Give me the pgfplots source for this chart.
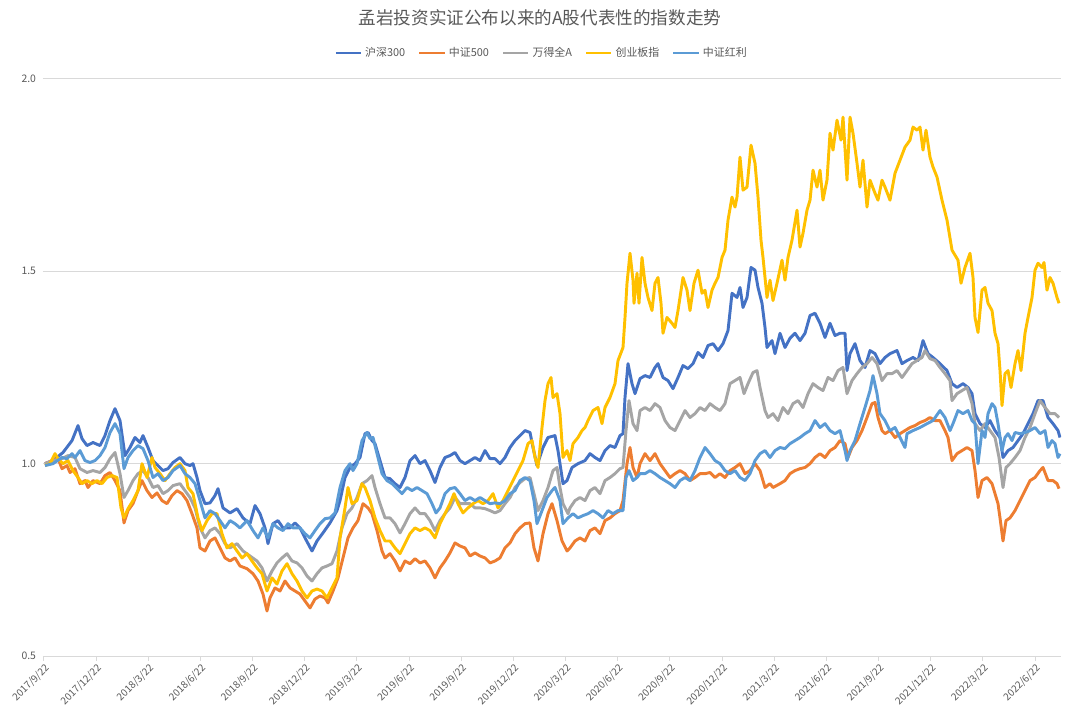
\documentclass[border=0pt]{standalone}
\usepackage{fontspec}
\setmainfont{Noto Sans CJK SC}
\usepackage{pgfplots}
\pgfplotsset{compat=1.18}
\definecolor{cHS}{HTML}{4472C4}
\definecolor{cZZ}{HTML}{ED7D31}
\definecolor{cWD}{HTML}{A5A5A5}
\definecolor{cCY}{HTML}{FFC000}
\definecolor{cHL}{HTML}{5B9BD5}
\definecolor{tgray}{HTML}{595959}
\definecolor{ggray}{HTML}{D9D9D9}
\begin{document}
\begin{tikzpicture}
\useasboundingbox (-32.25pt,-42.75pt) rectangle (777.75pt,492pt);
\begin{axis}[
  at={(0pt,0pt)}, anchor=south west,
  scale only axis, width=763.5pt, height=432.75pt,
  xmin=43, xmax=1061, ymin=0.5, ymax=2.0,
  axis x line=bottom, axis y line=left, axis line style={-},
  x axis line style={draw=ggray, line width=0.75pt},
  y axis line style={draw=none},
  xtick={44,96.16,148.32,200.48,252.64,304.8,356.96,409.12,461.28,513.44,565.6,617.76,669.92,722.08,774.24,826.4,878.56,930.72,982.88,1035.04},
  xticklabels={2017/9/22,2017/12/22,2018/3/22,2018/6/22,2018/9/22,2018/12/22,2019/3/22,2019/6/22,2019/9/22,2019/12/22,2020/3/22,2020/6/22,2020/9/22,2020/12/22,2021/3/22,2021/6/22,2021/9/22,2021/12/22,2022/3/22,2022/6/22},
  xtick align=outside, major tick length=3.5pt,
  xtick style={draw=ggray, line width=0.75pt},
  ytick={0.5,1.0,1.5,2.0}, yticklabels={0.5,1.0,1.5,2.0},
  ytick style={draw=none},
  x tick label style={rotate=45, anchor=north east, font=\fontsize{7.5}{9}\selectfont, text=tgray, inner sep=1pt},
  y tick label style={font=\fontsize{7.8}{9}\selectfont, text=tgray},
  ymajorgrids, grid style={draw=ggray, line width=0.75pt},
  every axis plot/.append style={line width=2.2pt, line join=round, mark=none},
  legend columns=5,
  legend style={at={(0.490,1)}, anchor=center, yshift=19.5pt, draw=none, fill=none,
    font=\fontsize{8.2}{10}\selectfont, text=tgray,
    /tikz/every even column/.append style={column sep=7.5pt}},
  legend image code/.code={\draw[#1] (0pt,0pt) -- (19pt,0pt);},
]
\addplot[cHS] coordinates {(45,1.000)(53,1.008)(63,1.029)(72,1.060)(78,1.099)(82,1.065)(87,1.047)(93,1.055)(100,1.047)(105,1.073)(110,1.112)(115,1.143)(120,1.112)(125,1.021)(130,1.042)(135,1.068)(140,1.055)(143,1.073)(148,1.042)(153,1.008)(158,0.995)(163,0.982)(168,0.987)(173,1.003)(180,1.016)(185,1.000)(190,0.995)(193,1.000)(197,0.964)(200,0.930)(205,0.896)(210,0.898)(215,0.917)(218,0.935)(223,0.885)(230,0.872)(237,0.883)(243,0.859)(250,0.844)(255,0.891)(260,0.870)(265,0.833)(268,0.792)(273,0.844)(278,0.852)(283,0.833)(290,0.833)(295,0.846)(300,0.833)(305,0.807)(312,0.773)(317,0.799)(323,0.820)(330,0.846)(337,0.878)(340,0.904)(345,0.964)(350,0.990)(355,1.000)(360,1.016)(365,1.078)(368,1.081)(372,1.060)(375,1.052)(380,1.008)(385,0.964)(390,0.961)(395,0.948)(400,0.938)(405,0.964)(410,1.008)(415,1.021)(420,1.000)(425,1.008)(430,0.982)(435,0.951)(440,0.990)(445,1.016)(450,1.021)(455,1.029)(460,1.008)(465,1.000)(470,1.008)(475,1.016)(480,1.008)(485,1.034)(490,1.013)(495,1.013)(500,1.000)(505,1.016)(510,1.042)(515,1.060)(520,1.073)(525,1.086)(530,1.081)(533,1.042)(537,0.995)(543,1.042)(548,1.068)(555,1.073)(558,1.034)(563,0.948)(567,0.956)(572,0.990)(578,1.000)(585,1.008)(590,1.026)(595,1.016)(600,1.008)(605,1.034)(610,1.047)(615,1.042)(620,1.073)(623,1.078)(625,1.172)(628,1.260)(632,1.208)(635,1.182)(640,1.221)(645,1.229)(650,1.224)(655,1.250)(658,1.260)(663,1.224)(668,1.216)(673,1.195)(678,1.224)(683,1.255)(688,1.247)(693,1.260)(698,1.289)(703,1.276)(708,1.307)(713,1.312)(718,1.294)(723,1.312)(728,1.346)(732,1.443)(737,1.432)(740,1.458)(743,1.406)(747,1.432)(751,1.510)(755,1.503)(758,1.458)(762,1.417)(765,1.354)(767,1.302)(772,1.320)(775,1.286)(780,1.339)(785,1.302)(790,1.326)(795,1.339)(800,1.320)(805,1.339)(810,1.385)(815,1.391)(820,1.365)(825,1.328)(830,1.365)(835,1.333)(840,1.339)(845,1.339)(847,1.242)(850,1.286)(855,1.312)(860,1.268)(865,1.250)(870,1.294)(875,1.286)(880,1.260)(885,1.276)(890,1.286)(897,1.294)(902,1.260)(907,1.268)(913,1.276)(918,1.268)(923,1.320)(928,1.286)(933,1.276)(940,1.260)(947,1.242)(952,1.208)(957,1.198)(963,1.208)(968,1.198)(972,1.182)(975,1.130)(980,1.104)(985,1.094)(990,1.112)(995,1.086)(1000,1.068)(1003,1.016)(1008,1.034)(1013,1.042)(1018,1.060)(1023,1.078)(1028,1.104)(1033,1.130)(1038,1.164)(1043,1.164)(1048,1.120)(1053,1.104)(1058,1.086)(1060,1.068)};
\addlegendentry{沪深300}
\addplot[cZZ] coordinates {(45,1.000)(52,1.008)(58,1.013)(62,0.987)(67,0.995)(70,0.977)(75,0.987)(80,0.948)(85,0.956)(88,0.938)(93,0.956)(100,0.948)(105,0.969)(110,0.977)(115,0.956)(120,0.930)(124,0.846)(128,0.878)(133,0.896)(138,0.930)(142,0.956)(147,0.930)(152,0.912)(157,0.924)(162,0.904)(167,0.896)(172,0.917)(177,0.930)(182,0.922)(187,0.904)(192,0.870)(197,0.833)(200,0.781)(205,0.773)(210,0.799)(215,0.807)(220,0.781)(225,0.755)(230,0.747)(235,0.755)(240,0.734)(247,0.727)(253,0.714)(258,0.695)(263,0.661)(267,0.617)(270,0.651)(275,0.677)(280,0.669)(285,0.695)(290,0.677)(295,0.669)(300,0.661)(305,0.643)(310,0.625)(315,0.648)(320,0.656)(325,0.651)(328,0.638)(333,0.669)(338,0.703)(343,0.755)(348,0.807)(353,0.833)(358,0.852)(363,0.896)(368,0.885)(372,0.870)(377,0.826)(382,0.773)(385,0.755)(390,0.766)(395,0.747)(400,0.721)(405,0.747)(410,0.740)(415,0.753)(420,0.742)(425,0.747)(430,0.729)(435,0.703)(440,0.729)(445,0.747)(450,0.768)(455,0.794)(460,0.786)(465,0.781)(470,0.760)(475,0.768)(480,0.760)(485,0.755)(490,0.742)(495,0.747)(500,0.755)(505,0.781)(510,0.794)(515,0.818)(520,0.833)(525,0.844)(530,0.846)(534,0.781)(538,0.747)(543,0.818)(548,0.870)(552,0.896)(557,0.852)(562,0.799)(567,0.773)(570,0.781)(575,0.799)(580,0.807)(585,0.799)(590,0.826)(595,0.833)(600,0.818)(605,0.852)(610,0.859)(615,0.870)(620,0.878)(623,0.904)(627,1.000)(630,1.042)(633,0.990)(637,0.964)(640,1.000)(645,1.026)(650,1.008)(655,1.026)(660,1.000)(665,0.982)(670,0.964)(675,0.974)(680,0.982)(685,0.974)(690,0.956)(695,0.964)(700,0.974)(705,0.974)(710,0.977)(715,0.964)(720,0.974)(725,0.964)(730,0.982)(735,0.990)(740,1.000)(745,0.974)(750,0.982)(755,1.000)(760,0.982)(765,0.938)(770,0.948)(773,0.938)(780,0.948)(785,0.956)(790,0.974)(795,0.982)(800,0.987)(805,0.990)(810,1.000)(815,1.016)(820,1.026)(825,1.016)(830,1.034)(835,1.042)(840,1.060)(845,1.052)(848,1.016)(852,1.042)(857,1.060)(862,1.086)(867,1.120)(872,1.156)(875,1.159)(878,1.120)(882,1.086)(885,1.078)(890,1.086)(895,1.068)(900,1.078)(905,1.086)(910,1.094)(915,1.099)(920,1.107)(925,1.112)(930,1.120)(935,1.112)(940,1.112)(945,1.086)(948,1.068)(952,1.008)(957,1.026)(962,1.034)(967,1.042)(972,1.034)(975,0.982)(978,0.912)(982,0.956)(987,0.964)(992,0.948)(995,0.922)(998,0.896)(1000,0.859)(1003,0.799)(1006,0.852)(1010,0.859)(1015,0.878)(1020,0.904)(1025,0.930)(1030,0.956)(1035,0.964)(1040,0.982)(1043,0.990)(1048,0.956)(1053,0.956)(1057,0.948)(1059,0.935)};
\addlegendentry{中证500}
\addplot[cWD] coordinates {(45,1.000)(53,1.008)(62,1.013)(68,1.021)(75,1.016)(80,0.987)(87,0.977)(93,0.982)(100,0.977)(105,0.990)(110,1.013)(115,1.029)(120,0.974)(124,0.912)(128,0.930)(133,0.956)(138,0.974)(143,0.982)(148,0.964)(153,0.938)(158,0.943)(163,0.922)(168,0.930)(173,0.943)(180,0.948)(185,0.930)(190,0.912)(195,0.885)(200,0.833)(205,0.807)(210,0.826)(215,0.833)(220,0.818)(225,0.792)(230,0.781)(237,0.792)(243,0.773)(250,0.760)(257,0.747)(262,0.729)(267,0.695)(272,0.721)(277,0.742)(282,0.755)(287,0.766)(292,0.747)(297,0.742)(302,0.729)(307,0.708)(312,0.695)(317,0.714)(322,0.729)(327,0.734)(332,0.740)(337,0.773)(342,0.833)(347,0.870)(352,0.885)(357,0.912)(362,0.948)(367,0.956)(372,0.969)(375,0.938)(380,0.896)(385,0.859)(390,0.859)(395,0.844)(400,0.820)(405,0.844)(410,0.870)(415,0.885)(420,0.870)(425,0.870)(430,0.852)(435,0.826)(440,0.852)(445,0.870)(450,0.885)(455,0.912)(460,0.896)(465,0.896)(470,0.896)(475,0.885)(480,0.885)(485,0.883)(490,0.878)(495,0.872)(500,0.878)(505,0.896)(510,0.912)(515,0.938)(520,0.951)(525,0.961)(530,0.964)(534,0.922)(538,0.878)(543,0.904)(548,0.938)(553,0.982)(557,0.990)(560,0.938)(563,0.896)(568,0.870)(570,0.885)(575,0.904)(580,0.912)(585,0.904)(590,0.930)(595,0.938)(600,0.922)(605,0.956)(610,0.964)(615,0.974)(620,0.987)(623,0.990)(626,1.086)(629,1.164)(633,1.104)(637,1.086)(640,1.138)(645,1.146)(650,1.138)(655,1.156)(660,1.146)(665,1.112)(670,1.094)(675,1.086)(680,1.112)(685,1.138)(690,1.120)(695,1.130)(700,1.146)(705,1.138)(710,1.156)(715,1.146)(720,1.138)(725,1.156)(730,1.208)(735,1.216)(740,1.224)(744,1.182)(748,1.208)(753,1.237)(757,1.242)(760,1.198)(765,1.138)(768,1.120)(773,1.130)(778,1.112)(783,1.146)(788,1.130)(793,1.156)(798,1.164)(803,1.146)(808,1.182)(813,1.208)(818,1.198)(823,1.190)(828,1.224)(833,1.216)(838,1.242)(843,1.250)(847,1.182)(852,1.216)(857,1.234)(862,1.250)(867,1.260)(872,1.276)(877,1.260)(882,1.216)(887,1.234)(892,1.234)(897,1.242)(902,1.224)(907,1.242)(912,1.260)(917,1.268)(922,1.276)(925,1.294)(930,1.273)(935,1.268)(940,1.250)(945,1.234)(950,1.216)(952,1.164)(957,1.182)(962,1.190)(967,1.198)(972,1.156)(975,1.104)(980,1.086)(985,1.104)(990,1.086)(995,1.068)(999,1.016)(1003,0.938)(1006,0.990)(1010,1.000)(1015,1.016)(1020,1.034)(1025,1.068)(1030,1.094)(1035,1.130)(1040,1.164)(1045,1.146)(1050,1.130)(1055,1.130)(1059,1.120)};
\addlegendentry{万得全A}
\addplot[cCY] coordinates {(45,0.995)(50,1.000)(55,1.026)(58,1.013)(63,1.000)(68,1.008)(73,0.982)(78,0.964)(82,0.948)(87,0.956)(92,0.948)(97,0.956)(102,0.948)(107,0.964)(112,0.969)(117,0.964)(121,0.885)(124,0.859)(128,0.883)(133,0.904)(138,0.930)(142,1.000)(147,0.964)(152,1.016)(155,0.990)(160,0.974)(165,0.956)(170,0.974)(175,0.990)(180,1.000)(185,0.982)(188,0.938)(193,0.922)(198,0.859)(202,0.826)(207,0.852)(212,0.870)(217,0.870)(222,0.818)(227,0.781)(232,0.792)(237,0.773)(242,0.755)(247,0.766)(252,0.747)(257,0.729)(262,0.714)(267,0.669)(272,0.703)(277,0.687)(282,0.721)(287,0.740)(292,0.714)(297,0.695)(302,0.669)(307,0.651)(312,0.669)(317,0.674)(322,0.669)(327,0.651)(332,0.677)(337,0.703)(340,0.807)(345,0.885)(348,0.938)(352,0.896)(357,0.904)(362,0.948)(365,0.938)(370,0.904)(375,0.859)(380,0.826)(385,0.799)(390,0.799)(395,0.781)(400,0.766)(405,0.792)(410,0.818)(415,0.833)(420,0.826)(425,0.833)(430,0.826)(435,0.807)(440,0.844)(445,0.870)(450,0.896)(454,0.922)(458,0.896)(463,0.872)(468,0.885)(473,0.896)(478,0.904)(483,0.896)(488,0.904)(493,0.922)(498,0.885)(503,0.904)(508,0.930)(513,0.956)(518,0.982)(523,1.008)(528,1.052)(532,1.060)(535,1.016)(538,0.990)(542,1.094)(545,1.164)(548,1.208)(551,1.224)(553,1.172)(557,1.182)(560,1.130)(563,1.016)(567,1.034)(570,1.008)(573,1.052)(578,1.068)(582,1.086)(585,1.094)(588,1.112)(593,1.138)(598,1.146)(602,1.104)(605,1.146)(610,1.172)(615,1.208)(618,1.268)(623,1.302)(625,1.380)(627,1.469)(630,1.547)(633,1.477)(634,1.417)(637,1.495)(639,1.417)(642,1.536)(645,1.469)(648,1.432)(652,1.398)(655,1.469)(658,1.484)(661,1.417)(663,1.339)(667,1.380)(672,1.365)(675,1.354)(678,1.398)(683,1.484)(687,1.451)(690,1.398)(694,1.469)(698,1.503)(702,1.443)(705,1.451)(708,1.406)(712,1.451)(715,1.469)(718,1.484)(722,1.536)(725,1.555)(728,1.633)(732,1.693)(735,1.667)(737,1.693)(740,1.797)(743,1.711)(747,1.719)(751,1.828)(755,1.781)(758,1.693)(761,1.581)(763,1.536)(767,1.432)(770,1.477)(773,1.424)(777,1.469)(782,1.529)(785,1.477)(788,1.536)(792,1.581)(797,1.659)(800,1.563)(803,1.599)(807,1.659)(810,1.685)(813,1.763)(817,1.719)(820,1.763)(823,1.685)(827,1.737)(830,1.859)(833,1.815)(837,1.893)(841,1.841)(843,1.901)(847,1.737)(850,1.901)(853,1.859)(857,1.781)(860,1.719)(863,1.789)(867,1.667)(870,1.737)(875,1.703)(878,1.685)(882,1.737)(885,1.719)(890,1.685)(895,1.755)(900,1.789)(905,1.823)(910,1.841)(913,1.875)(917,1.867)(920,1.875)(923,1.815)(926,1.867)(930,1.797)(933,1.771)(937,1.745)(942,1.685)(947,1.633)(952,1.555)(958,1.529)(961,1.469)(965,1.510)(970,1.547)(973,1.484)(975,1.380)(978,1.341)(982,1.451)(985,1.458)(988,1.417)(992,1.398)(995,1.339)(998,1.312)(1000,1.242)(1002,1.151)(1005,1.234)(1008,1.242)(1011,1.198)(1015,1.260)(1018,1.294)(1021,1.242)(1025,1.339)(1028,1.380)(1032,1.432)(1035,1.503)(1038,1.521)(1042,1.510)(1044,1.523)(1047,1.451)(1050,1.484)(1053,1.469)(1057,1.432)(1059,1.417)};
\addlegendentry{创业板指}
\addplot[cHL] coordinates {(45,0.995)(53,1.000)(62,1.016)(67,1.013)(72,1.026)(75,1.016)(80,1.034)(85,1.008)(90,1.003)(95,1.008)(100,1.021)(105,1.042)(110,1.081)(115,1.104)(120,1.078)(124,0.987)(128,1.016)(133,1.034)(138,1.047)(143,1.039)(148,1.008)(153,0.964)(158,0.974)(163,0.956)(168,0.964)(173,0.982)(180,0.995)(185,0.974)(190,0.964)(195,0.948)(200,0.904)(205,0.859)(210,0.878)(215,0.870)(220,0.852)(225,0.833)(230,0.852)(235,0.844)(240,0.833)(247,0.852)(253,0.826)(258,0.807)(263,0.833)(268,0.807)(273,0.844)(278,0.833)(283,0.826)(288,0.844)(293,0.833)(300,0.833)(305,0.818)(310,0.807)(315,0.826)(320,0.844)(325,0.857)(330,0.859)(335,0.872)(340,0.938)(345,0.982)(350,1.000)(353,0.982)(357,1.000)(362,1.060)(367,1.081)(370,1.065)(373,1.068)(377,1.026)(382,0.974)(387,0.956)(392,0.948)(397,0.935)(402,0.922)(407,0.938)(412,0.930)(417,0.938)(422,0.930)(427,0.922)(432,0.896)(436,0.872)(440,0.885)(445,0.922)(450,0.935)(455,0.938)(460,0.922)(465,0.904)(470,0.912)(475,0.904)(480,0.912)(485,0.904)(490,0.896)(495,0.898)(500,0.896)(505,0.904)(510,0.922)(515,0.930)(520,0.956)(525,0.964)(530,0.956)(534,0.904)(537,0.844)(542,0.878)(547,0.912)(552,0.930)(555,0.938)(560,0.904)(563,0.844)(568,0.859)(573,0.870)(578,0.859)(583,0.865)(588,0.870)(593,0.878)(598,0.870)(603,0.859)(608,0.878)(613,0.870)(618,0.878)(623,0.878)(626,0.964)(629,0.982)(633,0.956)(637,0.964)(640,0.974)(645,0.974)(650,0.982)(655,0.974)(660,0.964)(665,0.956)(670,0.948)(675,0.938)(680,0.956)(685,0.964)(690,0.956)(695,0.982)(700,1.016)(705,1.042)(710,1.026)(715,1.008)(720,1.000)(725,0.982)(730,0.974)(735,0.982)(740,0.964)(745,0.956)(750,0.974)(755,1.008)(760,1.026)(765,1.034)(770,1.016)(775,1.034)(780,1.042)(785,1.039)(790,1.052)(795,1.060)(800,1.068)(805,1.078)(810,1.086)(815,1.112)(820,1.094)(825,1.104)(830,1.086)(835,1.078)(840,1.086)(845,1.034)(847,1.008)(850,1.034)(855,1.060)(860,1.104)(865,1.146)(870,1.190)(873,1.229)(877,1.182)(880,1.130)(885,1.112)(890,1.086)(895,1.094)(900,1.068)(905,1.042)(907,1.078)(913,1.086)(920,1.094)(927,1.104)(933,1.112)(940,1.138)(945,1.120)(950,1.086)(953,1.104)(958,1.138)(963,1.130)(968,1.138)(972,1.112)(975,1.104)(978,1.000)(982,1.086)(985,1.068)(988,1.130)(992,1.156)(995,1.146)(998,1.104)(1002,1.034)(1005,1.068)(1008,1.078)(1012,1.060)(1015,1.081)(1020,1.078)(1025,1.081)(1030,1.086)(1035,1.094)(1040,1.078)(1045,1.086)(1048,1.042)(1052,1.060)(1055,1.052)(1058,1.016)(1060,1.026)};
\addlegendentry{中证红利}
\end{axis}
\node[font=\fontsize{13.2}{16}\selectfont, text=tgray] at (372.75pt,478.5pt) {孟岩投资实证公布以来的A股代表性的指数走势};
\end{tikzpicture}
\end{document}
